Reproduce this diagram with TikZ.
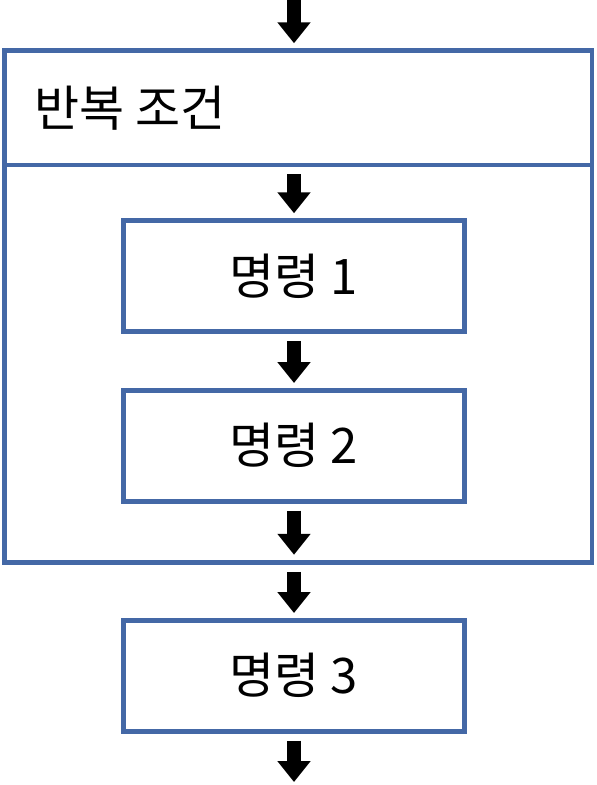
\documentclass[tikz,border=0pt]{standalone}
\usepackage{fontspec}
\setmainfont{Noto Sans CJK KR}
\usepackage{tikz}
\usetikzlibrary{arrows.meta}
\definecolor{frameblue}{RGB}{68,104,166}

\begin{document}
\begin{tikzpicture}[x=1pt,y=-1pt]
  \tikzset{>={Triangle[length=21pt,width=32pt]}}
  \tikzset{
    frame/.style={draw=frameblue,line width=4.5pt},
    cmdbox/.style={frame,minimum width=341pt,minimum height=111pt,
      inner sep=0pt,font=\fontsize{49}{58}\selectfont},
    flow/.style={->,line width=14pt,shorten <=7pt,shorten >=5pt}
  }
  % fix the page to the size of the reference
  \useasboundingbox (0,0) rectangle (597,785);

  % outer loop box with the condition on top
  \node[frame,minimum width=587.5pt,minimum height=512pt,inner sep=0pt]
    (loop) at (298.25,306.5) {};
  \node[anchor=west,inner sep=0pt,font=\fontsize{49}{58}\selectfont]
    (cond) at (34,108) {반복 조건};
  \coordinate (sep) at (294,165);
  \draw[frame] (loop.west |- sep) -- (loop.east |- sep);

  % the commands
  \node[cmdbox] (cmdA) at (294,276) {명령 1};
  \node[cmdbox] (cmdB) at (294,445.75) {명령 2};
  \node[cmdbox] (cmdC) at (294,675.75) {명령 3};

  % free ends at the top and bottom
  \coordinate (start) at (294,0);
  \coordinate (end) at (294,782);

  \draw[flow,shorten <=0pt] (start) -- (start |- loop.north);
  \draw[flow,shorten <=9pt] (sep) -- (cmdA.north);
  \draw[flow] (cmdA.south) -- (cmdB.north);
  \draw[flow,shorten >=10pt] (cmdB.south) -- (cmdB.south |- loop.south);
  \draw[flow] (cmdC.north |- loop.south) -- (cmdC.north);
  \draw[flow,shorten >=0pt] (cmdC.south) -- (end);
\end{tikzpicture}
\end{document}
